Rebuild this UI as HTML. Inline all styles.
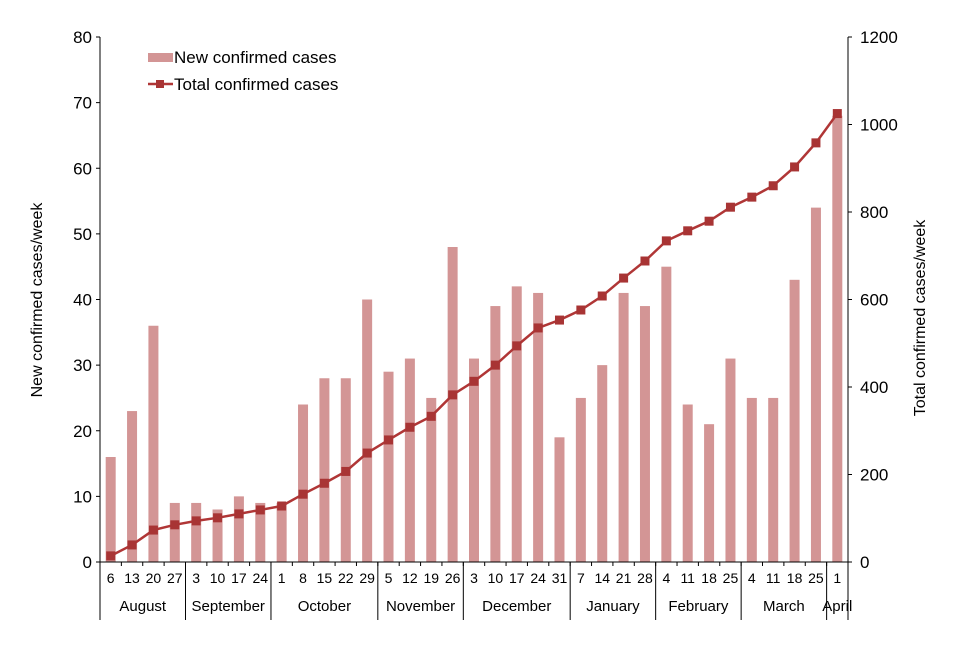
<!DOCTYPE html>
<html><head><meta charset="utf-8"><style>
body{margin:0;background:#fff;}
svg text{font-family:"Liberation Sans",Arial,sans-serif;fill:#000;}
</style></head><body>
<svg id="chart" width="960" height="640" xmlns="http://www.w3.org/2000/svg">
<g id="bars"></g>
<g id="line"></g>
<g id="axes"></g>
<g>
<rect x="148" y="53" width="25" height="9" fill="#d39595"/>
<text x="174" y="63" font-size="17">New confirmed cases</text>
<line x1="148" y1="84" x2="173" y2="84" stroke="#b03636" stroke-width="2.5"/>
<rect x="156" y="80" width="8" height="8" fill="#a83434"/>
<text x="174" y="90" font-size="17">Total confirmed cases</text>
</g>
<text transform="translate(42,300) rotate(-90)" text-anchor="middle" font-size="16">New confirmed cases/week</text>
<text transform="translate(925,318) rotate(-90)" text-anchor="middle" font-size="16">Total confirmed cases/week</text>
</svg>
<script>
const days=[6,13,20,27,3,10,17,24,1,8,15,22,29,5,12,19,26,3,10,17,24,31,7,14,21,28,4,11,18,25,4,11,18,25,1];
const newCases=[16,23,36,9,9,8,10,9,9,24,28,28,40,29,31,25,48,31,39,42,41,19,25,30,41,39,45,24,21,31,25,25,43,54,68];
const totalCases=[14,39,73,85,94,101,110,119,128,155,180,207,249,279,308,333,382,413,450,494,535,553,576,608,649,688,734,757,779,811,834,860,903,958,1025];
const months=["August","September","October","November","December","January","February","March","April"];
const monthStarts=[0,4,8,13,17,22,26,30,34,35];
const leftTicks=[0,10,20,30,40,50,60,70,80];
const rightTicks=[0,200,400,600,800,1000,1200];
const NS="http://www.w3.org/2000/svg";
const X0=100,X1=848,Y0=562,Y1=37;
const step=(X1-X0)/days.length;
const xc=i=>X0+step*(i+0.5);
const xb=i=>X0+step*i;
const yL=v=>Y0-(v/80)*(Y0-Y1);
const yR=v=>Y0-(v/1200)*(Y0-Y1);
function mk(tag,attrs,parent){const e=document.createElementNS(NS,tag);for(const k in attrs)e.setAttribute(k,attrs[k]);parent.appendChild(e);return e;}
const gb=document.getElementById('bars'),gl=document.getElementById('line'),ga=document.getElementById('axes');
newCases.forEach((v,i)=>{const r=mk('rect',{x:xc(i)-5,y:yL(v),width:10,height:Y0-yL(v),fill:'#d39595'},gb);

});
const pl=mk('polyline',{points:totalCases.map((v,i)=>xc(i)+','+yR(v)).join(' '),fill:'none',stroke:'#b03636','stroke-width':2.5},gl);


totalCases.forEach((v,i)=>{const r=mk('rect',{x:xc(i)-4.5,y:yR(v)-4.5,width:9,height:9,fill:'#a83434'},gl);

});
mk('line',{x1:X0,y1:Y1,x2:X0,y2:Y0,stroke:'#000'},ga);
mk('line',{x1:X1,y1:Y1,x2:X1,y2:Y0,stroke:'#000'},ga);
mk('line',{x1:X0-4,y1:Y0,x2:X1,y2:Y0,stroke:'#000'},ga);
leftTicks.forEach(v=>{mk('line',{x1:X0-4,y1:yL(v),x2:X0,y2:yL(v),stroke:'#000'},ga);
const t=mk('text',{x:X0-8,y:yL(v)+6,'text-anchor':'end','font-size':17},ga);t.textContent=v;

});
rightTicks.forEach(v=>{mk('line',{x1:X1,y1:yR(v),x2:X1+4,y2:yR(v),stroke:'#000'},ga);
const t=mk('text',{x:X1+12,y:yR(v)+6,'font-size':17},ga);t.textContent=v;

});
days.forEach((d,i)=>{mk('line',{x1:xb(i),y1:Y0,x2:xb(i),y2:Y0+4,stroke:'#000'},ga);
const t=mk('text',{x:xc(i),y:583,'text-anchor':'middle','font-size':14},ga);t.textContent=d;

});
monthStarts.forEach(i=>mk('line',{x1:xb(i),y1:Y0,x2:xb(i),y2:620,stroke:'#000'},ga));
months.forEach((m,k)=>{const c=(xb(monthStarts[k])+xb(monthStarts[k+1]))/2;
const t=mk('text',{x:c,y:611,'text-anchor':'middle','font-size':15},ga);t.textContent=m;

});
</script>
</body></html>
